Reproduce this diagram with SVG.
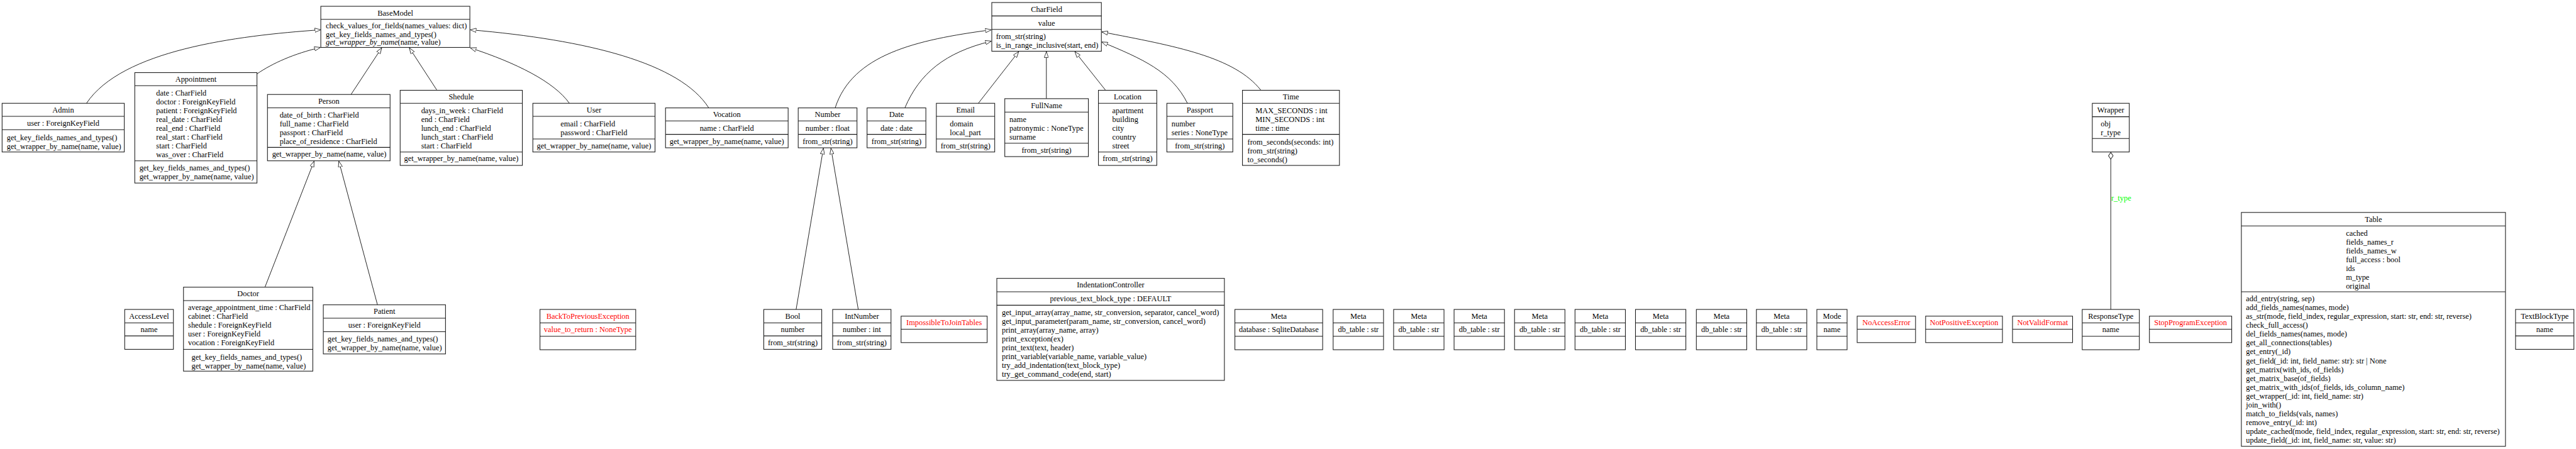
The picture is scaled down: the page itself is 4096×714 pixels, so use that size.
<svg xmlns="http://www.w3.org/2000/svg" width="4096" height="714" viewBox="0 0 4096 714">
<style>
.box{fill:#fff;stroke:#1a1a1a;stroke-width:1.6}
.sep{stroke:#1a1a1a;stroke-width:1.6}
text{font-family:"Liberation Serif","Times New Roman",serif;font-size:18.6px;fill:#000}
.c{text-anchor:middle}
.red{fill:#ff0000}
.edge{fill:none;stroke:#000;stroke-width:1.3}
.agg{fill:none;stroke:#333;stroke-width:1.6}
.lbl{fill:#00ff00}
</style>
<defs>
<marker id="tri" viewBox="0 0 15 11" refX="14.5" refY="5.5" markerWidth="15" markerHeight="11" markerUnits="userSpaceOnUse" orient="auto">
<path d="M0.5,0.5 L14.5,5.5 L0.5,10.5 z" fill="#fff" stroke="#000" stroke-width="1.1"/>
</marker>
</defs>
<rect x="0" y="0" width="4096" height="714" fill="#fff"/>
<g transform="scale(0.66765)">
<g id="connectors">
<path class="edge" marker-end="url(#tri)" d="M206,246 C290,120 560,85 764,71"/>
<path class="edge" marker-end="url(#tri)" d="M612,176 C650,150 700,128 763,113"/>
<path class="edge" marker-end="url(#tri)" d="M836,225 L909,114"/>
<path class="edge" marker-end="url(#tri)" d="M1040,214 L975,114"/>
<path class="edge" marker-end="url(#tri)" d="M1356,246 C1320,195 1230,150 1120,114"/>
<path class="edge" marker-end="url(#tri)" d="M1688,257 C1620,150 1400,95 1120,71"/>
<path class="edge" marker-end="url(#tri)" d="M1989,257 C2030,130 2180,95 2361,71"/>
<path class="edge" marker-end="url(#tri)" d="M2155,257 C2190,175 2250,125 2361,98"/>
<path class="edge" marker-end="url(#tri)" d="M2330,246 L2426,123"/>
<path class="edge" marker-end="url(#tri)" d="M2492,235 L2492,123"/>
<path class="edge" marker-end="url(#tri)" d="M2633,215 L2560,123"/>
<path class="edge" marker-end="url(#tri)" d="M2828,246 C2790,170 2720,140 2624,100"/>
<path class="edge" marker-end="url(#tri)" d="M3003,215 C2940,135 2800,110 2624,76"/>
<path class="edge" marker-end="url(#tri)" d="M1896,737 L1961,353"/>
<path class="edge" marker-end="url(#tri)" d="M2044,737 L1979,353"/>
<path class="edge" marker-end="url(#tri)" d="M631,684 L748,384"/>
<path class="edge" marker-end="url(#tri)" d="M899,726 L807,384"/>
<path class="agg" d="M5027,737 L5027,379"/>
<polygon points="5027,363 5032.5,371 5027,379 5021.5,371" fill="#fff" stroke="#333" stroke-width="1.6"/>
<text class="lbl" x="5028" y="478">r_type</text>
</g>

<g id="BaseModel">
<rect class="box" x="764" y="15" width="355" height="98"/>
<line class="sep" x1="764" y1="46" x2="1119" y2="46"/>
<text class="c" x="941.5" y="37">BaseModel</text>
<text x="776" y="68">check_values_for_fields(names_values: dict)</text>
<text x="776" y="88">get_key_fields_names_and_types()</text>
<text x="776" y="107"><tspan font-style="italic">get_wrapper_by_name</tspan>(name, value)</text>
</g>

<g id="CharField">
<rect class="box" x="2362" y="6" width="261" height="116"/>
<line class="sep" x1="2362" y1="38" x2="2623" y2="38"/>
<line class="sep" x1="2362" y1="70" x2="2623" y2="70"/>
<text class="c" x="2492.5" y="28">CharField</text>
<text class="c" x="2492.5" y="61">value</text>
<text x="2372" y="93">from_str(string)</text>
<text x="2372" y="114">is_in_range_inclusive(start, end)</text>
</g>

<g id="Admin">
<rect class="box" x="5" y="246" width="291" height="116"/>
<line class="sep" x1="5" y1="277" x2="296" y2="277"/>
<line class="sep" x1="5" y1="309" x2="296" y2="309"/>
<text class="c" x="150.5" y="268">Admin</text>
<text class="c" x="150.5" y="300">user : ForeignKeyField</text>
<text x="16" y="334">get_key_fields_names_and_types()</text>
<text x="16" y="355">get_wrapper_by_name(name, value)</text>
</g>

<g id="Appointment">
<rect class="box" x="321" y="173" width="291" height="263"/>
<line class="sep" x1="321" y1="204" x2="612" y2="204"/>
<line class="sep" x1="321" y1="383" x2="612" y2="383"/>
<text class="c" x="466.5" y="195">Appointment</text>
<text x="372" y="227">date : CharField</text>
<text x="372" y="248">doctor : ForeignKeyField</text>
<text x="372" y="269">patient : ForeignKeyField</text>
<text x="372" y="290">real_date : CharField</text>
<text x="372" y="311">real_end : CharField</text>
<text x="372" y="332">real_start : CharField</text>
<text x="372" y="353">start : CharField</text>
<text x="372" y="374">was_over : CharField</text>
<text x="332" y="406">get_key_fields_names_and_types()</text>
<text x="332" y="427">get_wrapper_by_name(name, value)</text>
</g>

<g id="Person">
<rect class="box" x="637" y="225" width="292" height="158"/>
<line class="sep" x1="637" y1="257" x2="929" y2="257"/>
<line class="sep" x1="637" y1="351" x2="929" y2="351"/>
<text class="c" x="783" y="247">Person</text>
<text x="666" y="280">date_of_birth : CharField</text>
<text x="666" y="301">full_name : CharField</text>
<text x="666" y="322">passport : CharField</text>
<text x="666" y="343">place_of_residence : CharField</text>
<text x="648" y="373">get_wrapper_by_name(name, value)</text>
</g>

<g id="Shedule">
<rect class="box" x="953" y="215" width="291" height="179"/>
<line class="sep" x1="953" y1="246" x2="1244" y2="246"/>
<line class="sep" x1="953" y1="362" x2="1244" y2="362"/>
<text class="c" x="1098.5" y="237">Shedule</text>
<text x="1003" y="270">days_in_week : CharField</text>
<text x="1003" y="291">end : CharField</text>
<text x="1003" y="312">lunch_end : CharField</text>
<text x="1003" y="333">lunch_start : CharField</text>
<text x="1003" y="353">start : CharField</text>
<text class="c" x="1098.5" y="384">get_wrapper_by_name(name, value)</text>
</g>

<g id="User">
<rect class="box" x="1269" y="246" width="291" height="116"/>
<line class="sep" x1="1269" y1="277" x2="1560" y2="277"/>
<line class="sep" x1="1269" y1="331" x2="1560" y2="331"/>
<text class="c" x="1414.5" y="268">User</text>
<text x="1335" y="301">email : CharField</text>
<text x="1335" y="322">password : CharField</text>
<text class="c" x="1414.5" y="354">get_wrapper_by_name(name, value)</text>
</g>

<g id="Vocation">
<rect class="box" x="1585" y="257" width="292" height="95"/>
<line class="sep" x1="1585" y1="288" x2="1877" y2="288"/>
<line class="sep" x1="1585" y1="320" x2="1877" y2="320"/>
<text class="c" x="1731" y="279">Vocation</text>
<text class="c" x="1731" y="311">name : CharField</text>
<text class="c" x="1731" y="343">get_wrapper_by_name(name, value)</text>
</g>

<g id="Number">
<rect class="box" x="1901" y="257" width="140" height="95"/>
<line class="sep" x1="1901" y1="288" x2="2041" y2="288"/>
<line class="sep" x1="1901" y1="320" x2="2041" y2="320"/>
<text class="c" x="1971" y="279">Number</text>
<text class="c" x="1971" y="311">number : float</text>
<text class="c" x="1971" y="343">from_str(string)</text>
</g>

<g id="Date">
<rect class="box" x="2065" y="257" width="140" height="95"/>
<line class="sep" x1="2065" y1="288" x2="2205" y2="288"/>
<line class="sep" x1="2065" y1="320" x2="2205" y2="320"/>
<text class="c" x="2135" y="279">Date</text>
<text class="c" x="2135" y="311">date : date</text>
<text class="c" x="2135" y="343">from_str(string)</text>
</g>

<g id="Email">
<rect class="box" x="2230" y="246" width="139" height="116"/>
<line class="sep" x1="2230" y1="277" x2="2369" y2="277"/>
<line class="sep" x1="2230" y1="331" x2="2369" y2="331"/>
<text class="c" x="2299.5" y="268">Email</text>
<text x="2262" y="301">domain</text>
<text x="2262" y="322">local_part</text>
<text class="c" x="2299.5" y="354">from_str(string)</text>
</g>

<g id="FullName">
<rect class="box" x="2393" y="235" width="199" height="138"/>
<line class="sep" x1="2393" y1="267" x2="2592" y2="267"/>
<line class="sep" x1="2393" y1="341" x2="2592" y2="341"/>
<text class="c" x="2492.5" y="257">FullName</text>
<text x="2404" y="291">name</text>
<text x="2404" y="312">patronymic : NoneType</text>
<text x="2404" y="333">surname</text>
<text class="c" x="2492.5" y="364">from_str(string)</text>
</g>

<g id="Location">
<rect class="box" x="2616" y="215" width="139" height="179"/>
<line class="sep" x1="2616" y1="246" x2="2755" y2="246"/>
<line class="sep" x1="2616" y1="362" x2="2755" y2="362"/>
<text class="c" x="2685.5" y="237">Location</text>
<text x="2649" y="270">apartment</text>
<text x="2649" y="291">building</text>
<text x="2649" y="312">city</text>
<text x="2649" y="333">country</text>
<text x="2649" y="353">street</text>
<text class="c" x="2685.5" y="384">from_str(string)</text>
</g>

<g id="Passport">
<rect class="box" x="2779" y="246" width="157" height="116"/>
<line class="sep" x1="2779" y1="277" x2="2936" y2="277"/>
<line class="sep" x1="2779" y1="331" x2="2936" y2="331"/>
<text class="c" x="2857.5" y="268">Passport</text>
<text x="2790" y="301">number</text>
<text x="2790" y="322">series : NoneType</text>
<text class="c" x="2857.5" y="354">from_str(string)</text>
</g>

<g id="Time">
<rect class="box" x="2959" y="215" width="231" height="179"/>
<line class="sep" x1="2959" y1="246" x2="3190" y2="246"/>
<line class="sep" x1="2959" y1="320" x2="3190" y2="320"/>
<text class="c" x="3074.5" y="237">Time</text>
<text x="2990" y="270">MAX_SECONDS : int</text>
<text x="2990" y="291">MIN_SECONDS : int</text>
<text x="2990" y="312">time : time</text>
<text x="2971" y="344">from_seconds(seconds: int)</text>
<text x="2971" y="365">from_str(string)</text>
<text x="2971" y="386">to_seconds()</text>
</g>

<g id="Wrapper">
<rect class="box" x="4983" y="246" width="88" height="116"/>
<line class="sep" x1="4983" y1="278" x2="5071" y2="278"/>
<line class="sep" x1="4983" y1="330" x2="5071" y2="330"/>
<text class="c" x="5027" y="268">Wrapper</text>
<text x="5003" y="301">obj</text>
<text x="5003" y="322">r_type</text>
</g>

<g id="AccessLevel">
<rect class="box" x="297" y="737" width="116" height="95"/>
<line class="sep" x1="297" y1="769" x2="413" y2="769"/>
<line class="sep" x1="297" y1="800" x2="413" y2="800"/>
<text class="c" x="355" y="759">AccessLevel</text>
<text class="c" x="355" y="791">name</text>
</g>

<g id="Doctor">
<rect class="box" x="437" y="684" width="308" height="200"/>
<line class="sep" x1="437" y1="716" x2="745" y2="716"/>
<line class="sep" x1="437" y1="832" x2="745" y2="832"/>
<text class="c" x="591" y="706">Doctor</text>
<text x="448" y="739">average_appointment_time : CharField</text>
<text x="448" y="760">cabinet : CharField</text>
<text x="448" y="781">shedule : ForeignKeyField</text>
<text x="448" y="802">user : ForeignKeyField</text>
<text x="448" y="823">vocation : ForeignKeyField</text>
<text x="456" y="856">get_key_fields_names_and_types()</text>
<text x="456" y="877">get_wrapper_by_name(name, value)</text>
</g>

<g id="Patient">
<rect class="box" x="770" y="726" width="291" height="117"/>
<line class="sep" x1="770" y1="758" x2="1061" y2="758"/>
<line class="sep" x1="770" y1="790" x2="1061" y2="790"/>
<text class="c" x="915.5" y="748">Patient</text>
<text class="c" x="915.5" y="781">user : ForeignKeyField</text>
<text x="780" y="814">get_key_fields_names_and_types()</text>
<text x="780" y="835">get_wrapper_by_name(name, value)</text>
</g>

<g id="BackToPreviousException">
<rect class="box" x="1286" y="737" width="228" height="96"/>
<line class="sep" x1="1286" y1="769" x2="1514" y2="769"/>
<line class="sep" x1="1286" y1="801" x2="1514" y2="801"/>
<text class="c red" x="1400" y="759">BackToPreviousException</text>
<text class="c red" x="1400" y="791">value_to_return : NoneType</text>
</g>

<g id="Bool">
<rect class="box" x="1819" y="737" width="138" height="95"/>
<line class="sep" x1="1819" y1="769" x2="1957" y2="769"/>
<line class="sep" x1="1819" y1="800" x2="1957" y2="800"/>
<text class="c" x="1888" y="759">Bool</text>
<text class="c" x="1888" y="791">number</text>
<text class="c" x="1888" y="822">from_str(string)</text>
</g>

<g id="IntNumber">
<rect class="box" x="1983" y="737" width="139" height="95"/>
<line class="sep" x1="1983" y1="769" x2="2122" y2="769"/>
<line class="sep" x1="1983" y1="800" x2="2122" y2="800"/>
<text class="c" x="2052.5" y="759">IntNumber</text>
<text class="c" x="2052.5" y="791">number : int</text>
<text class="c" x="2052.5" y="822">from_str(string)</text>
</g>

<g id="ImpossibleToJoinTables">
<rect class="box" x="2146" y="753" width="205" height="63"/>
<line class="sep" x1="2146" y1="784" x2="2351" y2="784"/>
<text class="c red" x="2248.5" y="775">ImpossibleToJoinTables</text>
</g>

<g id="IndentationController">
<rect class="box" x="2374" y="663" width="542" height="243"/>
<line class="sep" x1="2374" y1="695" x2="2916" y2="695"/>
<line class="sep" x1="2374" y1="727" x2="2916" y2="727"/>
<text class="c" x="2645" y="685">IndentationController</text>
<text class="c" x="2645" y="718">previous_text_block_type : DEFAULT</text>
<text x="2386" y="750">get_input_array(array_name, str_conversion, separator, cancel_word)</text>
<text x="2386" y="771">get_input_parameter(param_name, str_conversion, cancel_word)</text>
<text x="2386" y="792">print_array(array_name, array)</text>
<text x="2386" y="813">print_exception(ex)</text>
<text x="2386" y="834">print_text(text, header)</text>
<text x="2386" y="855">print_variable(variable_name, variable_value)</text>
<text x="2386" y="876">try_add_indentation(text_block_type)</text>
<text x="2386" y="897">try_get_command_code(end, start)</text>
</g>

<g id="Meta_database">
<rect class="box" x="2941" y="737" width="209" height="96"/>
<line class="sep" x1="2941" y1="769" x2="3150" y2="769"/>
<line class="sep" x1="2941" y1="801" x2="3150" y2="801"/>
<text class="c" x="3045.5" y="759">Meta</text>
<text class="c" x="3045.5" y="791">database : SqliteDatabase</text>
</g>
<g id="Meta_1">
<rect class="box" x="3175" y="737" width="120" height="96"/>
<line class="sep" x1="3175" y1="769" x2="3295" y2="769"/>
<line class="sep" x1="3175" y1="801" x2="3295" y2="801"/>
<text class="c" x="3235" y="759">Meta</text>
<text class="c" x="3235" y="791">db_table : str</text>
</g>
<g id="Meta_2">
<rect class="box" x="3319" y="737" width="120" height="96"/>
<line class="sep" x1="3319" y1="769" x2="3439" y2="769"/>
<line class="sep" x1="3319" y1="801" x2="3439" y2="801"/>
<text class="c" x="3379" y="759">Meta</text>
<text class="c" x="3379" y="791">db_table : str</text>
</g>
<g id="Meta_3">
<rect class="box" x="3463" y="737" width="120" height="96"/>
<line class="sep" x1="3463" y1="769" x2="3583" y2="769"/>
<line class="sep" x1="3463" y1="801" x2="3583" y2="801"/>
<text class="c" x="3523" y="759">Meta</text>
<text class="c" x="3523" y="791">db_table : str</text>
</g>
<g id="Meta_4">
<rect class="box" x="3607" y="737" width="120" height="96"/>
<line class="sep" x1="3607" y1="769" x2="3727" y2="769"/>
<line class="sep" x1="3607" y1="801" x2="3727" y2="801"/>
<text class="c" x="3667" y="759">Meta</text>
<text class="c" x="3667" y="791">db_table : str</text>
</g>
<g id="Meta_5">
<rect class="box" x="3751" y="737" width="120" height="96"/>
<line class="sep" x1="3751" y1="769" x2="3871" y2="769"/>
<line class="sep" x1="3751" y1="801" x2="3871" y2="801"/>
<text class="c" x="3811" y="759">Meta</text>
<text class="c" x="3811" y="791">db_table : str</text>
</g>
<g id="Meta_6">
<rect class="box" x="3895" y="737" width="120" height="96"/>
<line class="sep" x1="3895" y1="769" x2="4015" y2="769"/>
<line class="sep" x1="3895" y1="801" x2="4015" y2="801"/>
<text class="c" x="3955" y="759">Meta</text>
<text class="c" x="3955" y="791">db_table : str</text>
</g>
<g id="Meta_7">
<rect class="box" x="4040" y="737" width="120" height="96"/>
<line class="sep" x1="4040" y1="769" x2="4160" y2="769"/>
<line class="sep" x1="4040" y1="801" x2="4160" y2="801"/>
<text class="c" x="4100" y="759">Meta</text>
<text class="c" x="4100" y="791">db_table : str</text>
</g>
<g id="Meta_8">
<rect class="box" x="4183" y="737" width="120" height="96"/>
<line class="sep" x1="4183" y1="769" x2="4303" y2="769"/>
<line class="sep" x1="4183" y1="801" x2="4303" y2="801"/>
<text class="c" x="4243" y="759">Meta</text>
<text class="c" x="4243" y="791">db_table : str</text>
</g>

<g id="Mode">
<rect class="box" x="4327" y="737" width="72" height="96"/>
<line class="sep" x1="4327" y1="769" x2="4399" y2="769"/>
<line class="sep" x1="4327" y1="801" x2="4399" y2="801"/>
<text class="c" x="4363" y="759">Mode</text>
<text class="c" x="4363" y="791">name</text>
</g>

<g id="NoAccessError">
<rect class="box" x="4423" y="753" width="139" height="63"/>
<line class="sep" x1="4423" y1="784" x2="4562" y2="784"/>
<text class="c red" x="4492.5" y="775">NoAccessError</text>
</g>

<g id="NotPositiveException">
<rect class="box" x="4586" y="753" width="183" height="63"/>
<line class="sep" x1="4586" y1="784" x2="4769" y2="784"/>
<text class="c red" x="4677.5" y="775">NotPositiveException</text>
</g>

<g id="NotValidFormat">
<rect class="box" x="4793" y="753" width="143" height="63"/>
<line class="sep" x1="4793" y1="784" x2="4936" y2="784"/>
<text class="c red" x="4864.5" y="775">NotValidFormat</text>
</g>

<g id="ResponseType">
<rect class="box" x="4959" y="737" width="136" height="96"/>
<line class="sep" x1="4959" y1="769" x2="5095" y2="769"/>
<line class="sep" x1="4959" y1="801" x2="5095" y2="801"/>
<text class="c" x="5027" y="759">ResponseType</text>
<text class="c" x="5027" y="791">name</text>
</g>

<g id="StopProgramException">
<rect class="box" x="5119" y="753" width="196" height="63"/>
<line class="sep" x1="5119" y1="784" x2="5315" y2="784"/>
<text class="c red" x="5217" y="775">StopProgramException</text>
</g>

<g id="Table">
<rect class="box" x="5338" y="506" width="629" height="557"/>
<line class="sep" x1="5338" y1="538" x2="5967" y2="538"/>
<line class="sep" x1="5338" y1="695" x2="5967" y2="695"/>
<text class="c" x="5652.5" y="528">Table</text>
<text x="5587" y="561">cached</text>
<text x="5587" y="582">fields_names_r</text>
<text x="5587" y="603">fields_names_w</text>
<text x="5587" y="624">full_access : bool</text>
<text x="5587" y="645">ids</text>
<text x="5587" y="666">m_type</text>
<text x="5587" y="687">original</text>
<text x="5349" y="718">add_entry(string, sep)</text>
<text x="5349" y="739">add_fields_names(names, mode)</text>
<text x="5349" y="760">as_str(mode, field_index, regular_expression, start: str, end: str, reverse)</text>
<text x="5349" y="781">check_full_access()</text>
<text x="5349" y="802">del_fields_names(names, mode)</text>
<text x="5349" y="823">get_all_connections(tables)</text>
<text x="5349" y="844">get_entry(_id)</text>
<text x="5349" y="865">get_field(_id: int, field_name: str): str | None</text>
<text x="5349" y="886">get_matrix(with_ids, of_fields)</text>
<text x="5349" y="907">get_matrix_base(of_fields)</text>
<text x="5349" y="928">get_matrix_with_ids(of_fields, ids_column_name)</text>
<text x="5349" y="949">get_wrapper(_id: int, field_name: str)</text>
<text x="5349" y="970">join_with()</text>
<text x="5349" y="991">match_to_fields(vals, names)</text>
<text x="5349" y="1012">remove_entry(_id: int)</text>
<text x="5349" y="1033">update_cached(mode, field_index, regular_expression, start: str, end: str, reverse)</text>
<text x="5349" y="1054">update_field(_id: int, field_name: str, value: str)</text>
</g>

<g id="TextBlockType">
<rect class="box" x="5991" y="737" width="139" height="95"/>
<line class="sep" x1="5991" y1="769" x2="6130" y2="769"/>
<line class="sep" x1="5991" y1="800" x2="6130" y2="800"/>
<text class="c" x="6060.5" y="759">TextBlockType</text>
<text class="c" x="6060.5" y="791">name</text>
</g>
</g>
</svg>
